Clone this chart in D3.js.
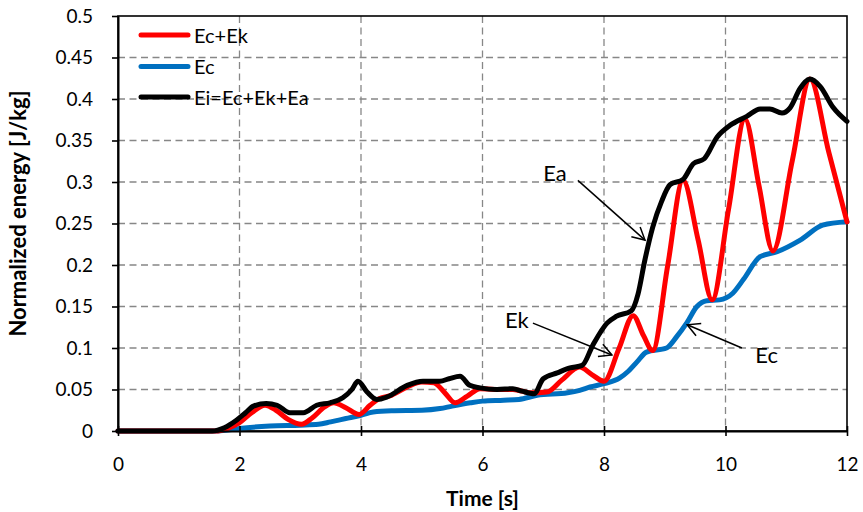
<!DOCTYPE html>
<html>
<head>
<meta charset="utf-8">
<script src="https://cdn.jsdelivr.net/npm/d3@7"></script>
<style>
  body { margin: 0; background: #fff; }
  svg { display: block; }
  text { font-family: Lato, "Noto Sans", sans-serif; fill: #000; }
</style>
</head>
<body>
<svg id="chart" width="863" height="512"></svg>
<script>
// Axis ticks
const xTicks = [0, 2, 4, 6, 8, 10, 12];
const yTicks = [0, 0.05, 0.1, 0.15, 0.2, 0.25, 0.3, 0.35, 0.4, 0.45, 0.5];
const yTickLabels = ["0", "0.05", "0.1", "0.15", "0.2", "0.25", "0.3", "0.35", "0.4", "0.45", "0.5"];

// Ec (potential / strain energy)
const ecTime   = [0, 1.65, 1.9, 2.0, 2.5, 3.0, 3.3, 3.5, 3.75, 4.0, 4.2, 4.5, 5.0, 5.3, 5.5, 5.8, 6.0, 6.35, 6.6, 6.9, 7.4, 7.6, 7.77, 8.0, 8.26, 8.4, 8.54, 8.7, 9.03, 9.2, 9.36, 9.53, 9.69, 9.9, 10.12, 10.3, 10.57, 10.85, 11.23, 11.6, 12];
const ecValues = [0, 0, 0.002, 0.003, 0.006, 0.007, 0.008, 0.011, 0.015, 0.019, 0.023, 0.0245, 0.025, 0.027, 0.03, 0.034, 0.036, 0.037, 0.038, 0.043, 0.046, 0.049, 0.053, 0.057, 0.064, 0.072, 0.083, 0.095, 0.1, 0.114, 0.13, 0.15, 0.157, 0.158, 0.166, 0.183, 0.21, 0.216, 0.23, 0.248, 0.252];

// Ec + Ek
const eckTime   = [0, 1.6, 1.8, 2.0, 2.2, 2.42, 2.6, 2.8, 3.02, 3.2, 3.4, 3.55, 3.75, 3.97, 4.15, 4.3, 4.5, 4.76, 5.0, 5.2, 5.38, 5.55, 5.75, 5.96, 6.2, 6.5, 6.8, 7.06, 7.3, 7.6, 7.8, 8.0, 8.25, 8.48, 8.65, 8.8, 9.05, 9.3, 9.55, 9.78, 10.05, 10.32, 10.55, 10.78, 11.1, 11.39, 11.7, 12];
const eckValues = [0, 0, 0.003, 0.01, 0.022, 0.031, 0.025, 0.014, 0.008, 0.016, 0.029, 0.034, 0.028, 0.02, 0.031, 0.039, 0.043, 0.053, 0.059, 0.058, 0.046, 0.034, 0.042, 0.051, 0.05, 0.05, 0.046, 0.047, 0.061, 0.077, 0.068, 0.06, 0.1, 0.139, 0.115, 0.097, 0.2, 0.302, 0.23, 0.158, 0.267, 0.376, 0.296, 0.217, 0.326, 0.424, 0.336, 0.252];

// Ei = Ec + Ek + Ea (input energy)
const eiTime   = [0, 1.55, 1.75, 1.95, 2.1, 2.23, 2.44, 2.62, 2.83, 3.05, 3.27, 3.49, 3.7, 3.85, 3.95, 4.1, 4.26, 4.43, 4.76, 5.02, 5.3, 5.45, 5.63, 5.79, 5.96, 6.24, 6.5, 6.65, 6.85, 7.0, 7.23, 7.44, 7.64, 7.82, 8.05, 8.2, 8.45, 8.56, 8.67, 8.8, 8.95, 9.09, 9.3, 9.47, 9.65, 9.86, 10.07, 10.35, 10.57, 10.73, 10.93, 11.06, 11.23, 11.39, 11.56, 11.77, 12];
const eiValues = [0, 0, 0.004, 0.013, 0.022, 0.03, 0.033, 0.031, 0.022, 0.022, 0.031, 0.034, 0.04, 0.05, 0.06, 0.047, 0.038, 0.041, 0.055, 0.06, 0.06, 0.063, 0.066, 0.055, 0.052, 0.05, 0.051, 0.048, 0.045, 0.063, 0.07, 0.076, 0.079, 0.104, 0.13, 0.138, 0.145, 0.165, 0.205, 0.245, 0.277, 0.297, 0.303, 0.322, 0.328, 0.354, 0.368, 0.379, 0.388, 0.388, 0.383, 0.389, 0.413, 0.424, 0.415, 0.39, 0.373];

const seriesNames  = ["Ec+Ek", "Ec", "Ei=Ec+Ek+Ea"];
const seriesColors = ["#ff0000", "#0070c0", "#000000"];

// Callout labels: text anchor and arrow from (x1,y1) to (x2,y2), in data units
const calloutLabels = ["Ea", "Ek", "Ec"];
const calloutText   = [[7.0, 0.3016], [6.37, 0.124], [10.49, 0.082]];
const calloutFrom   = [[7.57, 0.302], [6.83, 0.130], [10.27, 0.100]];
const calloutTo     = [[8.675, 0.230], [8.13, 0.0916], [9.37, 0.128]];

const svg = d3.select("#chart");
const plot = { left: 118, right: 847, top: 16, bottom: 431 };

const x = d3.scaleLinear().domain([0, 12]).range([plot.left, plot.right]);
const y = d3.scaleLinear().domain([0, 0.5]).range([plot.bottom, plot.top]);

svg.append("rect").attr("width", 863).attr("height", 512).attr("fill", "#fff");

// Dashed grid
const grid = svg.append("g").attr("stroke", "#878787").attr("stroke-width", 1.3).attr("stroke-dasharray", "7,4.5");
grid.selectAll("line.h").data(yTicks.filter(v => v > 0 && v < 0.5)).join("line")
  .attr("x1", plot.left).attr("x2", plot.right)
  .attr("y1", d => y(d)).attr("y2", d => y(d));
grid.selectAll("line.v").data(xTicks.filter(v => v > 0 && v < 12)).join("line")
  .attr("y1", plot.top).attr("y2", plot.bottom)
  .attr("x1", d => x(d)).attr("x2", d => x(d));

// Plot frame
svg.append("rect")
  .attr("x", plot.left).attr("y", plot.top)
  .attr("width", plot.right - plot.left).attr("height", plot.bottom - plot.top)
  .attr("fill", "none").attr("stroke", "#000").attr("stroke-width", 1.6);

// Series lines
const line = d3.line().x(d => x(d[0])).y(d => y(d[1])).curve(d3.curveMonotoneX);
const zip = (t, v) => t.map((ti, i) => [ti, v[i]]);
const series = [
  { name: seriesNames[0], color: seriesColors[0], data: zip(eckTime, eckValues) },
  { name: seriesNames[1], color: seriesColors[1], data: zip(ecTime, ecValues) },
  { name: seriesNames[2], color: seriesColors[2], data: zip(eiTime, eiValues) }
];
const drawOrder = [1, 0, 2];
svg.append("g").selectAll("path").data(drawOrder.map(i => series[i])).join("path")
  .attr("d", d => line(d.data))
  .attr("fill", "none")
  .attr("stroke", d => d.color)
  .attr("stroke-width", 5)
  .attr("stroke-linejoin", "round")
  .attr("stroke-linecap", "round");

// Y axis
const yAxis = svg.append("g").attr("transform", `translate(${plot.left},0)`)
  .call(d3.axisLeft(y).tickValues(yTicks).tickFormat((d, i) => yTickLabels[i]).tickSize(6).tickSizeOuter(0).tickPadding(19));
yAxis.select(".domain").attr("stroke-width", 2);
yAxis.selectAll(".tick line").attr("stroke-width", 1.6);
yAxis.selectAll(".tick text").style("font-size", "19px");

// X axis with ticks crossing the line
const xAxis = svg.append("g").attr("transform", `translate(0,${plot.bottom})`)
  .call(d3.axisBottom(x).tickValues(xTicks).tickSize(5).tickSizeOuter(0).tickPadding(22));
xAxis.select(".domain").attr("stroke-width", 2);
xAxis.selectAll(".tick line").attr("y1", -5).attr("y2", 5).attr("stroke-width", 1.6);
xAxis.selectAll(".tick text").style("font-size", "19px");
svg.selectAll(".tick text").attr("fill", "#000");

// Axis titles
svg.append("text")
  .attr("x", (plot.left + plot.right) / 2).attr("y", 506)
  .attr("text-anchor", "middle")
  .style("font-size", "21px").style("font-weight", "bold")
  .text("Time [s]");
svg.append("text")
  .attr("transform", `translate(26,${(plot.top + plot.bottom) / 2 - 10}) rotate(-90)`)
  .attr("text-anchor", "middle")
  .style("font-size", "22px").style("font-weight", "bold")
  .text("Normalized energy [J/kg]");

// Legend
const legend = svg.append("g");
const legendRows = [35, 66.5, 97];
series.forEach((s, i) => {
  legend.append("line")
    .attr("x1", 141).attr("x2", 188)
    .attr("y1", legendRows[i]).attr("y2", legendRows[i])
    .attr("stroke", s.color).attr("stroke-width", 5).attr("stroke-linecap", "round");
  legend.append("text")
    .attr("x", 194).attr("y", legendRows[i] + 7.5)
    .style("font-size", "20px")
    .text(s.name);
});

// Callouts
svg.append("defs").append("marker")
  .attr("id", "arrowhead")
  .attr("markerUnits", "userSpaceOnUse")
  .attr("viewBox", "-1 -8 15 16")
  .attr("refX", 12.4).attr("refY", 0)
  .attr("markerWidth", 15).attr("markerHeight", 16)
  .attr("orient", "auto")
  .append("path")
  .attr("d", "M0,-6.6 L12.4,0 L0,6.6")
  .attr("fill", "none").attr("stroke", "#000").attr("stroke-width", 1.5);

const callouts = svg.append("g");
calloutLabels.forEach((label, i) => {
  callouts.append("line")
    .attr("x1", x(calloutFrom[i][0])).attr("y1", y(calloutFrom[i][1]))
    .attr("x2", x(calloutTo[i][0])).attr("y2", y(calloutTo[i][1]))
    .attr("stroke", "#000").attr("stroke-width", 1.5)
    .attr("marker-end", "url(#arrowhead)");
  callouts.append("text")
    .attr("x", x(calloutText[i][0])).attr("y", y(calloutText[i][1]))
    .style("font-size", "22px")
    .text(label);
});
</script>
</body>
</html>
